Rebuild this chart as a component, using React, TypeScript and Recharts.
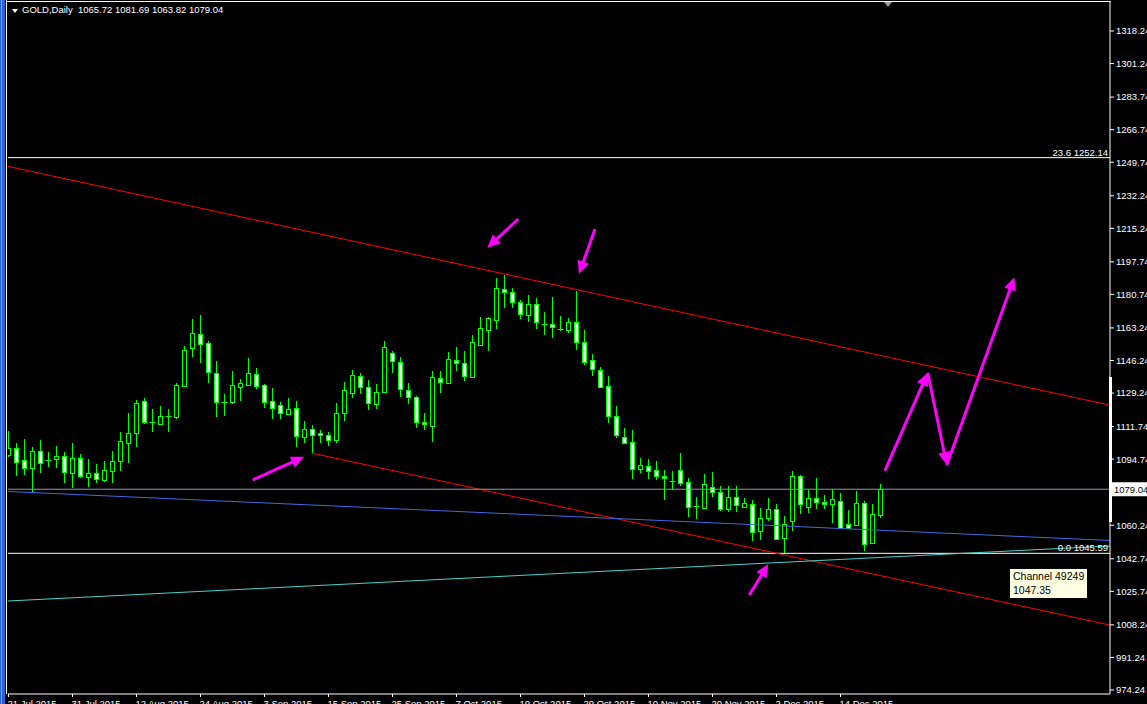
import React from 'react';
import { ComposedChart, Bar, XAxis, YAxis, ReferenceLine } from 'recharts';

// GOLD daily bars, 21 Jul 2015 .. 21 Dec 2015 (one entry per bar)
const opens = [
  1096.9, 1100.4, 1094.3, 1090.0, 1099.0, 1094.3, 1094.7, 1096.4, 1087.4, 1095.3,
  1085.3, 1087.5, 1083.9, 1088.7, 1093.9, 1103.3, 1108.2, 1124.9, 1114.3, 1113.2,
  1117.1, 1116.9, 1133.1, 1152.9, 1159.9, 1155.2, 1139.6, 1124.7, 1124.4, 1132.6,
  1133.5, 1139.0, 1133.3, 1124.9, 1122.9, 1118.2, 1121.3, 1106.2, 1110.3, 1108.2,
  1107.2, 1104.6, 1118.7, 1129.4, 1138.3, 1132.3, 1123.7, 1130.0, 1150.3, 1145.3,
  1131.0, 1127.0, 1114.3, 1112.2, 1137.0, 1134.7, 1146.5, 1144.8, 1137.8, 1154.3,
  1162.3, 1167.5, 1183.4, 1181.8, 1176.6, 1169.8, 1175.7, 1165.1, 1165.1, 1162.5,
  1162.3, 1166.2, 1155.7, 1146.3, 1141.1, 1132.8, 1117.1, 1106.5, 1103.5, 1089.5,
  1091.0, 1089.1, 1086.0, 1083.2, 1089.1, 1082.7, 1070.5, 1069.1, 1080.1, 1077.4,
  1068.6, 1074.8, 1069.9, 1071.2, 1057.1, 1064.2, 1068.6, 1053.4, 1062.3, 1085.8,
  1069.9, 1074.3, 1072.4, 1071.2, 1072.7, 1060.7, 1060.5, 1072.0, 1051.1, 1065.72,
];
const highs = [
  1109.4, 1103.0, 1105.3, 1101.1, 1104.7, 1098.5, 1101.6, 1098.5, 1103.0, 1097.4,
  1094.8, 1092.2, 1093.8, 1099.0, 1108.9, 1119.0, 1125.6, 1126.7, 1120.9, 1122.5,
  1120.9, 1134.5, 1153.8, 1167.9, 1170.0, 1156.4, 1146.0, 1128.8, 1140.8, 1136.4,
  1147.5, 1142.3, 1134.0, 1131.9, 1124.6, 1126.7, 1124.9, 1114.7, 1112.6, 1110.0,
  1108.9, 1123.9, 1135.0, 1141.3, 1139.6, 1136.1, 1134.0, 1156.4, 1151.4, 1148.1,
  1134.5, 1127.7, 1118.7, 1140.8, 1140.8, 1150.5, 1153.1, 1151.2, 1159.6, 1168.8,
  1168.9, 1189.1, 1191.0, 1183.9, 1177.7, 1180.3, 1178.7, 1171.4, 1179.2, 1169.5,
  1168.3, 1182.5, 1162.0, 1149.5, 1142.9, 1138.2, 1122.5, 1111.0, 1110.0, 1095.3,
  1094.8, 1093.8, 1089.1, 1088.6, 1098.1, 1084.8, 1074.8, 1087.0, 1088.0, 1080.7,
  1080.6, 1080.6, 1074.3, 1073.4, 1069.1, 1074.3, 1071.2, 1064.9, 1088.6, 1086.3,
  1078.5, 1084.8, 1076.0, 1079.2, 1076.9, 1068.2, 1078.3, 1072.7, 1071.3, 1081.69,
];
const lows = [
  1095.9, 1086.1, 1086.5, 1076.9, 1087.7, 1090.8, 1090.0, 1082.1, 1079.5, 1084.8,
  1080.4, 1082.5, 1082.7, 1082.1, 1088.7, 1092.9, 1101.2, 1112.9, 1109.1, 1112.6,
  1109.1, 1115.7, 1132.6, 1148.2, 1145.1, 1134.3, 1116.9, 1117.4, 1123.4, 1125.3,
  1132.9, 1131.4, 1121.3, 1115.9, 1115.6, 1117.8, 1100.9, 1103.3, 1097.8, 1103.0,
  1101.8, 1103.3, 1114.8, 1126.8, 1128.9, 1120.6, 1121.1, 1129.4, 1139.9, 1127.3,
  1123.7, 1111.2, 1110.1, 1103.9, 1129.4, 1134.1, 1140.8, 1135.5, 1137.4, 1153.8,
  1151.4, 1162.7, 1173.8, 1173.8, 1168.1, 1166.5, 1162.8, 1159.6, 1158.1, 1161.8,
  1160.4, 1151.7, 1144.1, 1138.3, 1132.0, 1113.6, 1105.9, 1102.5, 1084.4, 1087.7,
  1084.4, 1083.9, 1073.4, 1078.6, 1080.9, 1064.7, 1063.5, 1068.5, 1075.2, 1067.8,
  1067.3, 1067.3, 1069.1, 1052.2, 1052.7, 1062.5, 1052.5, 1045.9, 1057.4, 1066.0,
  1066.5, 1068.9, 1068.9, 1061.6, 1058.4, 1058.1, 1060.2, 1047.0, 1050.3, 1063.82,
];
const closes = [
  1100.4, 1093.4, 1090.0, 1099.0, 1092.9, 1094.3, 1096.4, 1088.2, 1095.3, 1086.1,
  1087.5, 1084.2, 1089.1, 1093.8, 1104.2, 1108.4, 1123.9, 1114.3, 1114.3, 1117.1,
  1117.1, 1133.3, 1151.6, 1160.4, 1154.7, 1140.1, 1124.4, 1124.7, 1133.3, 1134.3,
  1139.6, 1133.1, 1124.4, 1121.3, 1118.7, 1120.8, 1107.0, 1110.3, 1107.4, 1107.2,
  1104.6, 1118.7, 1130.7, 1138.5, 1132.6, 1123.9, 1129.6, 1153.1, 1145.8, 1131.2,
  1127.0, 1114.3, 1112.9, 1137.5, 1134.9, 1146.9, 1144.8, 1138.3, 1155.7, 1163.1,
  1168.3, 1184.0, 1182.2, 1176.6, 1170.4, 1175.7, 1166.5, 1165.1, 1163.6, 1162.5,
  1166.2, 1155.7, 1145.3, 1141.6, 1132.6, 1117.1, 1107.2, 1103.0, 1089.5, 1091.5,
  1088.7, 1086.0, 1084.7, 1083.2, 1082.1, 1069.6, 1070.5, 1081.6, 1077.4, 1068.6,
  1074.8, 1070.7, 1071.7, 1056.6, 1063.9, 1068.6, 1052.9, 1061.1, 1085.8, 1071.2,
  1074.3, 1072.2, 1071.2, 1073.8, 1059.0, 1059.0, 1071.7, 1050.3, 1066.0, 1079.04,
];

const dateLabels = [
  '21 Jul 2015', '31 Jul 2015', '12 Aug 2015', '24 Aug 2015', '3 Sep 2015', '15 Sep 2015', '25 Sep 2015',
  '7 Oct 2015', '19 Oct 2015', '29 Oct 2015', '10 Nov 2015', '20 Nov 2015', '2 Dec 2015', '14 Dec 2015',
];
const dateTickBars = [0, 8, 16, 24, 32, 40, 48, 56, 64, 72, 80, 88, 96, 104];

const priceTicks = [
  974.24, 991.24, 1008.24, 1025.74, 1042.74, 1060.24, 1094.74, 1111.74, 1129.24, 1146.24,
  1163.24, 1180.74, 1197.74, 1215.24, 1232.24, 1249.74, 1266.74, 1283.74, 1301.24, 1318.24,
];

const fiboLevels = [
  { name: '23.6', price: 1252.14 },
  { name: '0.0', price: 1045.59 },
];

// [bar, price] end points
const trendLines = [
  { from: [-0.0625, 1247.56], to: [137.6875, 1122.91], color: '#FF0000' },
  { from: [38, 1097.8], to: [137.6875, 1008.12], color: '#FF0000' },
  { from: [-0.0625, 1077.86], to: [137.6875, 1052.28], color: '#4169E1' },
  { from: [-0.0625, 1020.7], to: [137.6875, 1049.41], color: '#48D1CC' },
];

// tail -> tip
const arrows = [
  { from: [30.53, 1083.86], to: [36.94, 1096.01] },
  { from: [63.73, 1220.1], to: [59.85, 1205.12] },
  { from: [73.31, 1214.88], to: [71.31, 1191.39] },
  { from: [92.6, 1023.83], to: [94.98, 1040.01] },
  { from: [109.56, 1088.71], to: [114.9, 1139.86] },
  { from: [114.9, 1139.86], to: [117.28, 1091.69] },
  { from: [117.28, 1091.69], to: [125.73, 1189.66] },
];

const data = opens.map((o, i) => ({
  k: i,
  open: o,
  high: highs[i],
  low: lows[i],
  close: closes[i],
  range: [lows[i], highs[i]],
}));

const last = data[data.length - 1];
const GREEN = '#00FF00';
const FONT = "'Liberation Sans', Arial, sans-serif";

const Candle = (props: any) => {
  const { x, y, width, height, payload } = props;
  if (!payload) return null;
  const { open, high, low, close } = payload;
  const span = high - low || 1;
  const toY = (v: number) => y + ((high - v) / span) * height;
  const cx = Math.floor(x + width / 2) + 0.5;
  const top = Math.round(toY(Math.max(open, close)));
  const bottom = Math.round(toY(Math.min(open, close)));
  const yHigh = Math.round(y);
  const yLow = Math.round(y + height);
  if (bottom - top < 1) {
    return (
      <g>
        <line x1={cx} y1={yHigh} x2={cx} y2={yLow} stroke={GREEN} />
        <line x1={cx - 3} y1={top + 0.5} x2={cx + 3} y2={top + 0.5} stroke={GREEN} />
      </g>
    );
  }
  return (
    <g>
      <line x1={cx} y1={yHigh} x2={cx} y2={yLow} stroke={GREEN} />
      <rect
        x={cx - 2}
        y={top + 0.5}
        width={4}
        height={bottom - top}
        fill={close > open ? '#000000' : '#FFFFFF'}
        stroke={GREEN}
      />
    </g>
  );
};

const ArrowShape = (props: any) => {
  const { x1, y1, x2, y2 } = props;
  const dx = x2 - x1;
  const dy = y2 - y1;
  const len = Math.hypot(dx, dy) || 1;
  const ux = dx / len;
  const uy = dy / len;
  const head = 13;
  const half = 6;
  const bx = x2 - ux * head;
  const by = y2 - uy * head;
  return (
    <g>
      <line x1={x1} y1={y1} x2={bx + ux * 3} y2={by + uy * 3} stroke="#FF00FF" strokeWidth={3} />
      <polygon
        points={`${x2},${y2} ${bx - uy * half},${by + ux * half} ${bx + uy * half},${by - ux * half}`}
        fill="#FF00FF"
      />
    </g>
  );
};

const DateTick = (props: any) => {
  const { x, y, payload } = props;
  const idx = dateTickBars.indexOf(payload.value);
  return (
    <text x={x - 1} y={y} dy={8} fill="#FFFFFF" fontSize={9.5} fontFamily={FONT}>
      {dateLabels[idx]}
    </text>
  );
};

const PriceTag = (props: any) => {
  const { viewBox } = props;
  if (!viewBox) return null;
  const x = viewBox.x + viewBox.width;
  const y = viewBox.y;
  return (
    <g>
      <rect x={x + 1} y={y - 7} width={40} height={14} fill="#FFFFFF" />
      <text x={x + 4} y={y + 4} fill="#000000" fontSize={9.5} fontFamily={FONT}>
        {last.close.toFixed(2)}
      </text>
    </g>
  );
};

const App: React.FC = () => {
  return (
    <div
      style={{
        position: 'relative',
        width: 1147,
        height: 704,
        background: '#000000',
        overflow: 'hidden',
        fontFamily: FONT,
      }}
    >
      <style>{'body { margin: 0; background: #000; }'}</style>
      <ComposedChart
        width={1147}
        height={704}
        data={data}
        margin={{ top: 2, right: 0, bottom: 0, left: 8 }}
      >
        <XAxis
          type="number"
          dataKey="k"
          domain={[-0.0625, 137.6875]}
          allowDataOverflow
          ticks={dateTickBars}
          interval={0}
          height={10}
          tickSize={3}
          axisLine={{ stroke: '#FFFFFF' }}
          tickLine={{ stroke: '#FFFFFF' }}
          tick={<DateTick />}
        />
        <YAxis
          orientation="right"
          type="number"
          domain={[972.15, 1333.38]}
          allowDataOverflow
          ticks={priceTicks}
          interval={0}
          width={37}
          tickSize={4}
          axisLine={{ stroke: '#FFFFFF' }}
          tickLine={{ stroke: '#FFFFFF' }}
          tick={{ fill: '#FFFFFF', fontSize: 9.5, fontFamily: FONT }}
          tickFormatter={(v: number) => v.toFixed(2)}
        />
        {fiboLevels.map((f) => (
          <ReferenceLine
            key={f.name}
            y={f.price}
            stroke="#FFFFFF"
            ifOverflow="visible"
            label={{
              value: `${f.name} ${f.price.toFixed(2)}`,
              position: 'insideBottomRight',
              offset: 2,
              fill: '#FFFFFF',
              fontSize: 9.5,
              fontFamily: FONT,
            }}
          />
        ))}
        {trendLines.map((t, i) => (
          <ReferenceLine
            key={`t${i}`}
            segment={[
              { x: t.from[0], y: t.from[1] },
              { x: t.to[0], y: t.to[1] },
            ]}
            stroke={t.color}
            strokeWidth={1}
            ifOverflow="visible"
          />
        ))}
        <ReferenceLine y={last.close} stroke="#8C9BAA" ifOverflow="visible" label={<PriceTag />} />
        <Bar dataKey="range" barSize={6} shape={<Candle />} isAnimationActive={false} />
        {arrows.map((a, i) => (
          <ReferenceLine
            key={`a${i}`}
            segment={[
              { x: a.from[0], y: a.from[1] },
              { x: a.to[0], y: a.to[1] },
            ]}
            stroke="#FF00FF"
            ifOverflow="visible"
            shape={(p: any) => <ArrowShape {...p} />}
          />
        ))}
      </ComposedChart>

      {/* window frame */}
      <div style={{ position: 'absolute', left: 0, top: 0, width: 5, height: 704, background: '#2A62D8' }} />
      <div style={{ position: 'absolute', left: 1, top: 0, width: 1, height: 704, background: '#6C9CF0' }} />
      <div style={{ position: 'absolute', left: 5, top: 0, width: 3, height: 704, background: '#000000' }} />
      <div style={{ position: 'absolute', left: 6, top: 0, width: 1, height: 694, background: '#FFFFFF' }} />
      <div style={{ position: 'absolute', left: 6, top: 1, width: 1105, height: 1, background: '#FFFFFF' }} />
      <div style={{ position: 'absolute', left: 1109, top: 377, width: 3, height: 145, background: '#FFFFFF' }} />
      <div
        style={{
          position: 'absolute',
          left: 884,
          top: 2,
          width: 0,
          height: 0,
          borderLeft: '4px solid transparent',
          borderRight: '4px solid transparent',
          borderTop: '5px solid #9A9A9A',
        }}
      />

      {/* header */}
      <div
        style={{
          position: 'absolute',
          left: 12,
          top: 9,
          width: 0,
          height: 0,
          borderLeft: '3.5px solid transparent',
          borderRight: '3.5px solid transparent',
          borderTop: '4px solid #FFFFFF',
        }}
      />
      <div
        style={{
          position: 'absolute',
          left: 22,
          top: 4,
          color: '#FFFFFF',
          fontSize: 9.5,
          whiteSpace: 'pre',
          lineHeight: '12px',
        }}
      >
        {`GOLD,Daily  ${last.open.toFixed(2)} ${last.high.toFixed(2)} ${last.low.toFixed(2)} ${last.close.toFixed(2)}`}
      </div>

      {/* channel tooltip */}
      <div
        style={{
          position: 'absolute',
          left: 1010,
          top: 569,
          width: 77,
          height: 29,
          background: '#FFFFE1',
          color: '#000000',
          fontSize: 10.5,
          lineHeight: '13.5px',
          padding: '1px 0 0 3px',
          boxSizing: 'border-box',
        }}
      >
        Channel 49249
        <br />
        1047.35
      </div>
    </div>
  );
};

export default App;
